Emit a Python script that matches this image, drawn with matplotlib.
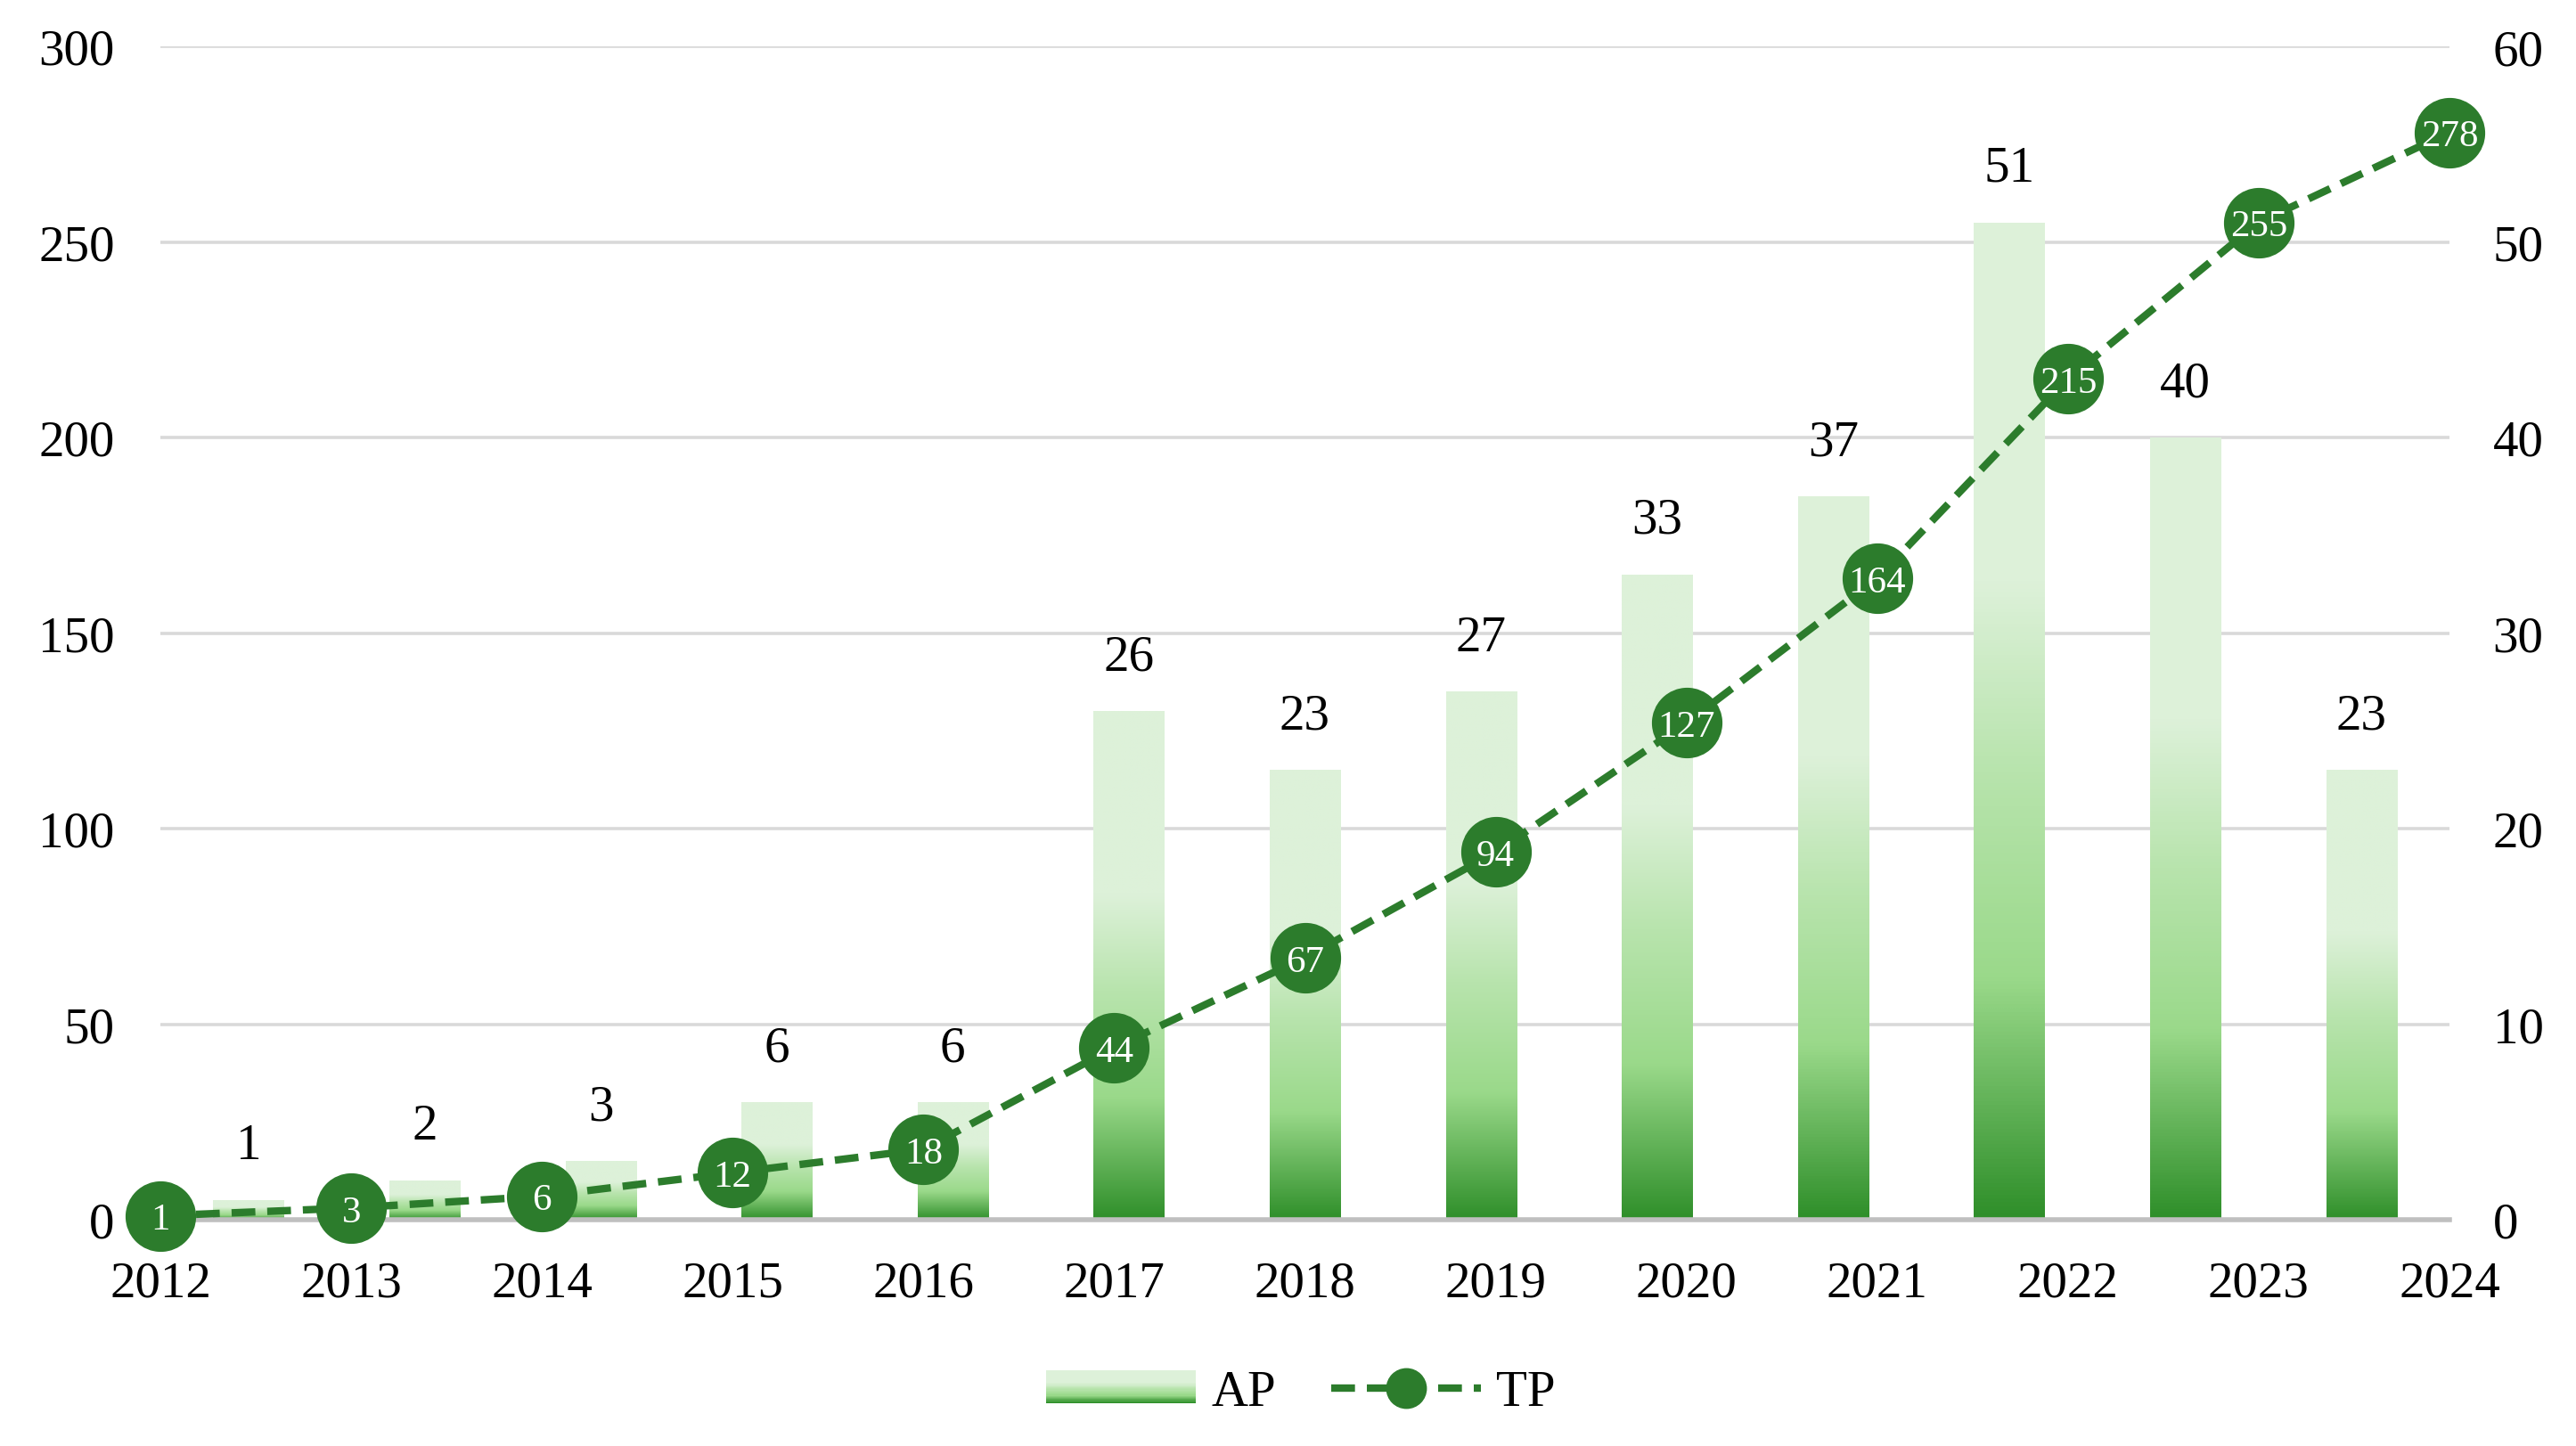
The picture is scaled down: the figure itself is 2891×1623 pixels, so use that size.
import numpy as np
import matplotlib
matplotlib.use("Agg")
import matplotlib.pyplot as plt
from matplotlib.colors import LinearSegmentedColormap
from matplotlib.patches import Rectangle
from matplotlib.lines import Line2D
from matplotlib.legend_handler import HandlerBase

plt.rcParams['font.family'] = ['Liberation Serif', 'DejaVu Serif']

years = ['2012', '2013', '2014', '2015', '2016', '2017', '2018',
         '2019', '2020', '2021', '2022', '2023', '2024']
ap_values = [1, 2, 3, 6, 6, 26, 23, 27, 33, 37, 51, 40, 23]
tp_values = [1, 3, 6, 12, 18, 44, 67, 94, 127, 164, 215, 255, 278]
left_ticks = [0, 50, 100, 150, 200, 250, 300]
right_ticks = [0, 10, 20, 30, 40, 50, 60]

DARK = '#2c7c2c'
grad_cmap = LinearSegmentedColormap.from_list(
    'apgrad',
    [(0.0, '#2f8f2a'), (0.24, '#9ad98a'), (0.45, '#b8e4ad'),
     (0.64, '#ddf1d9'), (1.0, '#ddf1d9')])

FS = 41
fig = plt.figure(figsize=(28.91, 16.24), dpi=100)
rect = [180 / 2891, 254 / 1624, (2749 - 180) / 2891, (1370 - 53) / 1624]

# Bars axis (secondary / right)
axb = fig.add_axes(rect)
idx = np.arange(len(ap_values))
bars = axb.bar(idx, ap_values, width=0.4, facecolor='none', edgecolor='none', zorder=2)
grad = np.linspace(0, 1, 256).reshape(-1, 1)
for b in bars:
    x0, w, h = b.get_x(), b.get_width(), b.get_height()
    im = axb.imshow(grad, cmap=grad_cmap, origin='lower', aspect='auto',
                    extent=(x0, x0 + w, 0, h), zorder=2, interpolation='bilinear')
    im.set_clip_path(b)
axb.bar_label(bars, labels=[str(v) for v in ap_values], padding=25, fontsize=FS)
axb.set_xlim(-0.5, len(ap_values) - 0.5)
axb.set_ylim(0, 60)
axb.set_yticks(right_ticks)
axb.yaxis.tick_right()
axb.tick_params(axis='y', length=0, pad=35, labelsize=FS)
axb.set_xticks([])
axb.grid(axis='y', color='#d9d9d9', linewidth=2.6, zorder=0)
axb.set_axisbelow(True)
for s in ['top', 'left', 'right']:
    axb.spines[s].set_visible(False)
axb.spines['bottom'].set_color('#bfbfbf')
axb.spines['bottom'].set_linewidth(4)

# Line axis (primary / left)
axl = fig.add_axes(rect)
axl.patch.set_visible(False)
xl = np.arange(len(tp_values))
axl.plot(xl, tp_values, color=DARK, linewidth=6, linestyle=(0, (3.2, 1.6)),
         marker='o', markersize=56, markerfacecolor=DARK, markeredgecolor=DARK,
         clip_on=False, zorder=3)
for x, v in zip(xl, tp_values):
    axl.text(x, v, str(v), color='white', fontsize=31, ha='center',
             va='center_baseline', zorder=4, clip_on=False)
axl.set_xlim(0, len(tp_values) - 1)
axl.set_ylim(0, 300)
axl.set_yticks(left_ticks)
axl.set_xticks(xl)
axl.set_xticklabels(years)
axl.tick_params(axis='y', length=0, pad=37, labelsize=FS)
axl.tick_params(axis='x', length=0, pad=33, labelsize=FS)
for s in axl.spines.values():
    s.set_visible(False)


class GradHandle:
    pass


class HandlerGradient(HandlerBase):
    def create_artists(self, legend, orig_handle, xdescent, ydescent,
                       width, height, fontsize, trans):
        n = 30
        arts = []
        for i in range(n):
            c = grad_cmap(i / (n - 1))
            r = Rectangle((-xdescent, -ydescent + height * i / n), width, height / n + 0.3,
                          facecolor=c, edgecolor='none', transform=trans)
            arts.append(r)
        return arts


h_ap = GradHandle()
h_tp = Line2D([], [], color=DARK, linewidth=6, linestyle=(0, (3.2, 1.6)),
              marker='o', markersize=32, markerfacecolor=DARK, markeredgecolor=DARK)
fig.legend([h_ap, h_tp], ['AP', 'TP'], handler_map={GradHandle: HandlerGradient()},
           loc='center', bbox_to_anchor=(0.505, 1 - 1564 / 1624), ncol=2, frameon=False,
           fontsize=FS, handlelength=2.95, handleheight=0.6, handletextpad=0.3,
           columnspacing=1.1)

fig.savefig('out.png', dpi=100, facecolor='white')
